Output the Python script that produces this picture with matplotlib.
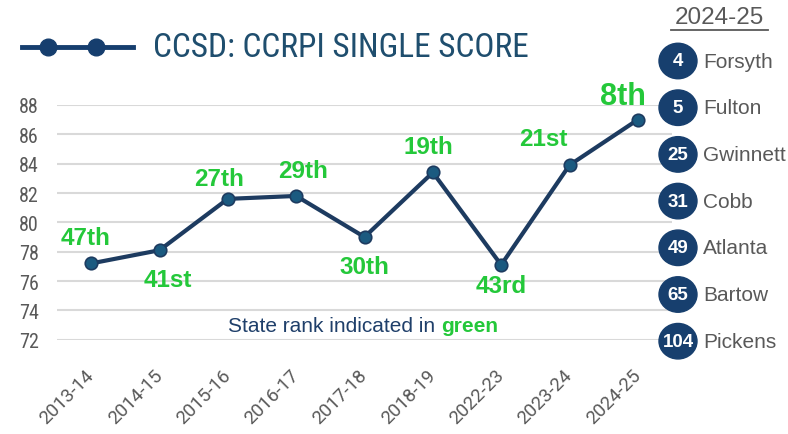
import matplotlib
matplotlib.use('Agg')
import matplotlib.pyplot as plt
from matplotlib.lines import Line2D
from matplotlib.patches import Ellipse

# data
years = ['2013-14', '2014-15', '2015-16', '2016-17', '2017-18', '2018-19',
         '2022-23', '2023-24', '2024-25']
scores = [77.2, 78.1, 81.6, 81.8, 79.0, 83.4, 77.1, 83.9, 87.0]
ranks = ['47th', '41st', '27th', '29th', '30th', '19th', '43rd', '21st', '8th']
yticks = [72, 74, 76, 78, 80, 82, 84, 86, 88]
district_ranks = [4, 5, 25, 31, 49, 65, 104]
districts = ['Forsyth', 'Fulton', 'Gwinnett', 'Cobb', 'Atlanta', 'Bartow', 'Pickens']

NAVY = '#1d3b60'
GREEN = '#24c83a'
GRAY = '#595959'
roboto = ['Roboto', 'DejaVu Sans']
condensed = ['Roboto Condensed', 'Roboto', 'DejaVu Sans']
arial = ['Liberation Sans', 'DejaVu Sans']

fig = plt.figure(figsize=(7.88, 4.35), dpi=100)
ax = fig.add_axes([57/788, 1-340.7/435, (672-57)/788, (340.7-106)/435])
x = list(range(len(years)))
ax.plot(x, scores, color=NAVY, lw=3, marker='o', ms=9,
        markerfacecolor='#1b5a80', markeredgecolor=NAVY, markeredgewidth=1.2,
        zorder=3)
ax.set_xlim(-0.5, len(years)-0.5)
ax.set_ylim(72, 88)
ax.set_yticks(yticks)
ax.set_yticklabels([str(v) for v in yticks], family=condensed, fontsize=14.5, color=GRAY)
ax.set_xticks(x)
ax.set_xticklabels(years, rotation=45, ha='right', va='center', rotation_mode='anchor',
                   family=roboto, fontsize=13.5, color=GRAY)
ax.tick_params(axis='y', length=0, pad=13)
ax.tick_params(axis='x', length=0, pad=23)
ax.grid(axis='y', color='#d9d9d9', lw=1.5, zorder=0)
ax.set_axisbelow(True)
for s in ax.spines.values():
    s.set_visible(False)

# rank labels (offsets in points)
offsets = [(-4, 19), (6, -21), (-6, 15), (5, 18), (0, -21), (-3, 19), (0, -15), (-19, 19), (-11, 17)]
for i, (r, off) in enumerate(zip(ranks, offsets)):
    fs = 22 if i == len(ranks)-1 else 17.5
    ax.annotate(r, (x[i], scores[i]), xytext=off, textcoords='offset points',
                ha='center', va='center', color=GREEN, fontsize=fs,
                fontweight='bold', family=arial, zorder=4)

# note
t1 = ax.text(0.0, 0.0, 'State rank indicated in ', transform=fig.transFigure,
             color='#1f3f6a', fontsize=15, family=arial, va='center')
gt = ax.text(0, 0, 'green', transform=fig.transFigure, color=GREEN, fontsize=15,
             fontweight='bold', family=arial, va='center')
fig.canvas.draw()
rend = fig.canvas.get_renderer()
tw = t1.get_window_extent(renderer=rend).width
gw = gt.get_window_extent(renderer=rend).width
x0 = (363 - (tw + gw)/2) / 788
t1.set_position((x0, 1-327/435))
gt.set_position((x0 + tw/788, 1-327/435))

# title + legend symbol
fig.text(153/788, 1-48/435, 'CCSD: CCRPI SINGLE SCORE', color='#1f4e6e',
         fontsize=24, family=condensed, va='center', ha='left')
fig.add_artist(Line2D([22/788, 133/788], [1-48/435]*2, transform=fig.transFigure,
                      color='#163e6e', lw=3.5))
fig.add_artist(Line2D([48/788, 96/788], [1-48/435]*2, transform=fig.transFigure,
                      color='#163e6e', lw=0, marker='o', ms=12))

# right panel: 2024-25 district ranks
ax2 = fig.add_axes([640/788, 0, 148/788, 1])
ax2.set_xlim(0, 148)
ax2.set_ylim((435-62)/46.7, -62/46.7)
ax2.axis('off')
ax2.patch.set_alpha(0)
ax2.text(79, -62/46.7 + 18/46.7, '2024-25', ha='center', va='center', fontsize=17.5,
         color=GRAY, family=arial)
ax2.plot([31, 128], [-62/46.7 + 31/46.7]*2, color=GRAY, lw=1.3)
for i, (n, d) in enumerate(zip(district_ranks, districts)):
    ax2.add_patch(Ellipse((38, i), 38, 0.76, color='#173f6e', zorder=3))
    ax2.text(38, i, str(n), ha='center', va='center', color='white',
             fontsize=13.5, fontweight='bold', family=arial, zorder=4)
    ax2.text(63, i, d, ha='left', va='center', color=GRAY, fontsize=15,
             family=arial)

fig.savefig('out.png', dpi=100)
